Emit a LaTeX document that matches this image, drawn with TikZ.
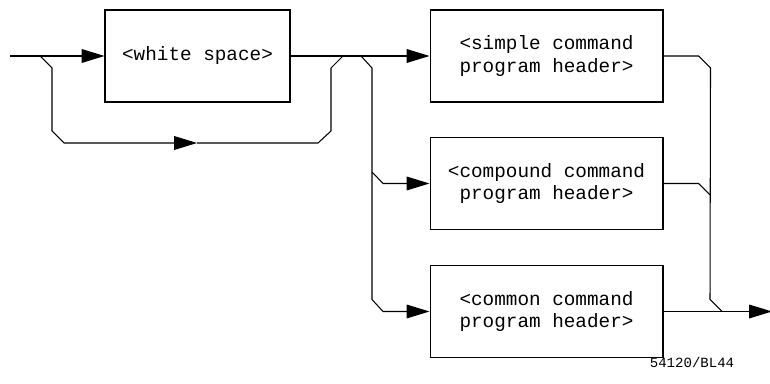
\documentclass[tikz,border=0pt]{standalone}
\usepackage{fontspec}
\setmonofont{Liberation Mono}
\usetikzlibrary{positioning,arrows.meta}

\begin{document}
\begin{tikzpicture}[x=0.02cm, y=-0.02cm, line width=0.6pt,
      box/.style={draw, rectangle, minimum height=1.84cm, align=center,
      font=\ttfamily\fontsize{11}{13}\selectfont},
      flow/.style={-{Triangle[length=13pt, width=7.8pt]}},
    ]
    \useasboundingbox (0,0) rectangle (770,384);

    % boxes
    \node[box, minimum width=3.7cm] (ws) at (197.5,56) {<white space>};
    \node[box, minimum width=4.66cm] (simple) at (546.5,56) {<simple command\\program header>};
    \node[box, minimum width=4.66cm] (compound) at (546.5,183.5) {<compound command\\program header>};
    \node[box, minimum width=4.66cm] (common) at (546.5,311.5) {<common command\\program header>};

    % junctions
    \coordinate (in) at (10,56);
    \coordinate (split) at (40,56);
    \coordinate (join) at (343,56);
    \coordinate (fork) at (361,56);
    \coordinate (trunk) at (372,172);
    \coordinate (merge) at (722,311.5);
    \coordinate (out) at (772,311.5);

    % input and white space bypass
    \draw[flow] (in) -- (ws.west);
    \draw[flow] (split) -- ++(12,12) -- ++(0,63) -- ++(12,12) -- (197,143);
    \draw (197,143) -- (318,143) -- ++(13,-12) -- ++(0,-63) -- (join);
    \draw[flow] (ws.east) -- (simple.west);

    % branches
    \draw[flow] (fork) -- ++(11,12) -- (trunk) -- ++(11,11.5) -- (compound.west);
    \draw[flow] (trunk) -- ++(0,127.5) -- ++(11,12) -- (common.west);

    % outputs
    \draw (simple.east) -- ++(35,0) -- ++(12,12) -- (710,299.5) -- (merge);
    \draw (compound.east) -- ++(35,0) -- ++(12,12);
    \draw[flow] (common.east) -- (out);

    \node[font=\ttfamily\fontsize{8}{10}\selectfont] (fig) at (692,362) {54120/BL44};
  \end{tikzpicture}
\end{document}
